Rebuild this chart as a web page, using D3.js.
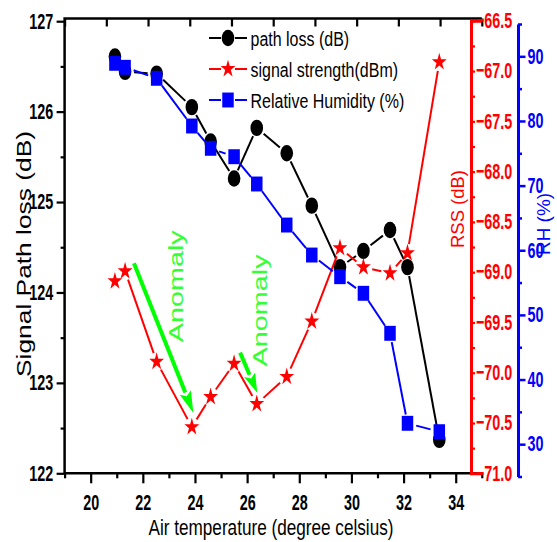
<!DOCTYPE html>
<html>
<head>
<meta charset="utf-8">
<script src="https://cdn.jsdelivr.net/npm/d3@7"></script>
<style>
  html, body { margin: 0; padding: 0; background: #fff; }
  svg { display: block; }
</style>
</head>
<body>
<svg id="chart" width="557" height="542"></svg>
<script>
// Air temperature readings (degree celsius)
const temperature = [20.93, 21.32, 22.53, 23.88, 24.6, 25.5, 26.37, 27.52, 28.48, 29.56, 30.46, 31.48, 32.15, 33.37];
// Signal path loss (dB)
const pathLoss = [126.61, 126.44, 126.42, 126.05, 125.67, 125.26, 125.82, 125.54, 124.96, 124.28, 124.46, 124.69, 124.28, 122.37];
// Received signal strength (dBm)
const signalStrength = [-69.09, -68.99, -69.89, -70.54, -70.24, -69.91, -70.31, -70.04, -69.49, -68.76, -68.95, -69.01, -68.81, -66.91];
// Relative humidity (%)
const humidity = [88.92, 88.30, 86.60, 79.22, 75.77, 74.47, 70.25, 63.90, 59.26, 55.91, 53.34, 47.15, 33.23, 31.93];

// Tick values for each axis
const xTicks = [20, 22, 24, 26, 28, 30, 32, 34];
const lossTicks = [122, 123, 124, 125, 126, 127];
const rssTicks = [-71, -70.5, -70, -69.5, -69, -68.5, -68, -67.5, -67, -66.5];
const rhTicks = [30, 40, 50, 60, 70, 80, 90];

const legendLabels = ["path loss (dB)", "signal strength(dBm)", "Relative Humidity (%)"];

// Anomaly arrows in data units: [temp start, RSS start, temp end, RSS end]
const anomalyArrows = [[21.66, -68.91, 23.94, -70.40], [25.73, -69.80, 26.39, -70.20]];
// Anomaly label anchors in data units: [temp, RSS]
const anomalyLabels = [[23.55, -69.14], [26.75, -69.38]];

const S = 1.3;          // vertical stretch of glyphs and symbols
const FONT = 'Arial, "Liberation Sans", sans-serif';
const svg = d3.select("#chart");

const x = d3.scaleLinear([19, 35], [64.6, 481.8]);
const xTop = d3.scaleLinear([0, 10], x.range());
const yLoss = d3.scaleLinear([122, 127], [473.3, 21.2]);
const yRss = d3.scaleLinear([-71, -66.5], [473.3, 20.8]);
const yRh = d3.scaleLinear([25, 95], [476.5, 24]);

const frameTop = 18.5;
const frameBottom = yLoss.range()[0];

function styleTickText(g, color, tx, ty, anchor) {
  g.selectAll(".tick text")
    .attr("x", null).attr("y", null).attr("dy", null)
    .attr("text-anchor", anchor)
    .attr("transform", `translate(${tx},${ty}) scale(0.82,${S})`)
    .attr("fill", color)
    .style("font-family", FONT).style("font-weight", "bold").style("font-size", "17.5px");
}
function styleTickLines(g, color, w) {
  g.selectAll(".tick line").attr("stroke", color).attr("stroke-width", w);
}

// ---- frame (left, top, bottom) ----
svg.append("path")
  .attr("d", `M${x.range()[0]},${frameBottom}V${frameTop}H${x.range()[1]}M${x.range()[0]},${frameBottom}H${x.range()[1]}`)
  .attr("fill", "none").attr("stroke", "#000").attr("stroke-width", 2.5);

// top axis: inward ticks, no labels
const gTop = svg.append("g").attr("transform", `translate(0,${frameTop})`)
  .call(d3.axisBottom(xTop).ticks(10).tickSize(8).tickFormat(""));
gTop.select(".domain").remove();
styleTickLines(gTop, "#000", 2.2);

// bottom axis
const gB = svg.append("g").attr("transform", `translate(0,${frameBottom})`)
  .call(d3.axisBottom(x).tickValues(xTicks).tickSize(10).tickFormat(d3.format("d")));
gB.select(".domain").remove();
styleTickLines(gB, "#000", 2.2);
styleTickText(gB, "#000", 0, 36.7, "middle");
const gBm = svg.append("g").attr("transform", `translate(0,${frameBottom})`)
  .call(d3.axisBottom(x).tickValues(d3.range(19, 36, 2)).tickSize(5).tickFormat(""));
gBm.select(".domain").remove();
styleTickLines(gBm, "#000", 2.2);

// left axis: path loss
const gL = svg.append("g").attr("transform", `translate(${x.range()[0]},0)`)
  .call(d3.axisLeft(yLoss).tickValues(lossTicks).tickSize(8).tickFormat(d3.format("d")));
gL.select(".domain").remove();
styleTickLines(gL, "#000", 2.2);
styleTickText(gL, "#000", -11.5, 6.8, "end");
const gLm = svg.append("g").attr("transform", `translate(${x.range()[0]},0)`)
  .call(d3.axisLeft(yLoss).tickValues(d3.range(122.5, 127, 1)).tickSize(4).tickFormat(""));
gLm.select(".domain").remove();
styleTickLines(gLm, "#000", 2.2);

// right axis 1: RSS (red)
const gR = svg.append("g").attr("transform", "translate(471,0)")
  .call(d3.axisRight(yRss).tickValues(rssTicks).tickSize(4).tickSizeOuter(10).tickFormat(d3.format(".1f")));
gR.select(".domain").attr("stroke", "#ff0000").attr("stroke-width", 3);
styleTickLines(gR, "#ff0000", 2.2);
styleTickText(gR, "#ff0000", 5, 6.8, "start");
const gRm = svg.append("g").attr("transform", "translate(471,0)")
  .call(d3.axisRight(yRss).tickValues(d3.range(-70.75, -66.5, 0.5)).tickSize(4).tickFormat(""));
gRm.select(".domain").remove();
styleTickLines(gRm, "#ff0000", 2.2);

// right axis 2: RH (blue)
const gH = svg.append("g").attr("transform", "translate(518,0)")
  .call(d3.axisRight(yRh).tickValues(rhTicks).tickSize(7.5).tickSizeOuter(0).tickFormat(d3.format("d")));
gH.select(".domain").attr("stroke", "#0000ff").attr("stroke-width", 3);
styleTickLines(gH, "#0000ff", 2.5);
styleTickText(gH, "#0000ff", 9.5, 6.8, "start");
const gHm = svg.append("g").attr("transform", "translate(518,0)")
  .call(d3.axisRight(yRh).tickValues(d3.range(25, 96, 10)).tickSize(4).tickFormat(""));
gHm.select(".domain").remove();
styleTickLines(gHm, "#0000ff", 2.5);

// ---- axis titles ----
function title(txt, tx, ty, rot, size, len, color) {
  const t = svg.append("text")
    .attr("transform", rot ? `translate(${tx},${ty}) rotate(-90)` : `translate(${tx},${ty}) scale(1,${S})`)
    .attr("text-anchor", "middle")
    .attr("fill", color)
    .style("font-family", FONT).style("font-size", size + "px")
    .text(txt);
  if (len) t.attr("textLength", len).attr("lengthAdjust", "spacingAndGlyphs");
  return t;
}
title("Signal Path loss (dB)", 31, 254, true, 20, 246, "#000");
title("Air temperature (degree celsius)", 271, 535, false, 17, 245, "#000");
title("RSS (dB)", 464, 209, true, 19, 78, "#ff0000");
title("RH (%)", 550, 224, true, 18, 62, "#0000ff");

// ---- series ----
const symbolCircle = d3.symbol().type(d3.symbolCircle).size(125)();
const symbolStar = d3.symbol().type(d3.symbolStar).size(68)();
const symbolSquare = d3.symbol().type(d3.symbolSquare).size(132)();

const series = [
  { label: legendLabels[0], values: pathLoss, y: yLoss, color: "#000000", shape: symbolCircle, sy: S, gap: 9 },
  { label: legendLabels[1], values: signalStrength, y: yRss, color: "#ff0000", shape: symbolStar, sy: 1.2, gap: 9 },
  { label: legendLabels[2], values: humidity, y: yRh, color: "#0000ff", shape: symbolSquare, sy: S, gap: 9 }
];

function gappedSegments(pts, gap) {
  const segs = [];
  for (let i = 0; i < pts.length - 1; i++) {
    const [x0, y0] = pts[i], [x1, y1] = pts[i + 1];
    const dx = x1 - x0, dy = y1 - y0, len = Math.hypot(dx, dy);
    if (len <= 2 * gap + 1) continue;
    const ux = dx / len, uy = dy / len;
    segs.push([[x0 + ux * gap, y0 + uy * gap], [x1 - ux * gap, y1 - uy * gap]]);
  }
  return segs;
}
const line = d3.line();

series.forEach(s => {
  const pts = temperature.map((t, i) => [x(t), s.y(s.values[i])]);
  const g = svg.append("g");
  g.selectAll("path.seg").data(gappedSegments(pts, s.gap)).join("path")
    .attr("class", "seg").attr("d", line)
    .attr("fill", "none").attr("stroke", s.color).attr("stroke-width", 2);
  g.selectAll("path.mk").data(pts).join("path")
    .attr("class", "mk").attr("d", s.shape)
    .attr("transform", d => `translate(${d[0]},${d[1]}) scale(1,${s.sy})`)
    .attr("fill", s.color);
});

// ---- anomaly annotations ----
const green = "#00ff00";
anomalyArrows.forEach(a => {
  const x0 = x(a[0]), y0 = yRss(a[1]), x1 = x(a[2]), y1 = yRss(a[3]);
  const dx = x1 - x0, dy = y1 - y0, len = Math.hypot(dx, dy);
  const ux = dx / len, uy = dy / len, head = Math.min(22, len * 0.45), hw = 6;
  const bx = x1 - ux * head, by = y1 - uy * head;
  svg.append("path")
    .attr("d", `M${x0},${y0}L${bx},${by}`)
    .attr("stroke", green).attr("stroke-width", 4).attr("fill", "none");
  svg.append("path")
    .attr("d", `M${x1},${y1}L${bx - uy * hw},${by + ux * hw}L${bx + ux * 4},${by + uy * 4}L${bx + uy * hw},${by - ux * hw}Z`)
    .attr("fill", green);
});
anomalyLabels.forEach(p => {
  svg.append("text")
    .attr("transform", `translate(${x(p[0])},${yRss(p[1])}) rotate(-90)`)
    .attr("text-anchor", "middle")
    .attr("fill", "#33ff33")
    .attr("textLength", 112).attr("lengthAdjust", "spacingAndGlyphs")
    .style("font-family", FONT).style("font-size", "21px")
    .text("Anomaly");
});

// ---- legend ----
const legend = svg.append("g");
const legendRows = [38, 69, 100];
series.forEach((s, i) => {
  const cy = legendRows[i];
  const row = legend.append("g").attr("transform", `translate(0,${cy})`);
  row.append("path").attr("d", "M209,0H221M235,0H247")
    .attr("stroke", s.color).attr("stroke-width", 2);
  row.append("path").attr("d", s.shape)
    .attr("transform", `translate(228,0) scale(1,${s.sy})`)
    .attr("fill", s.color);
  row.append("text")
    .attr("transform", `translate(250.5,8) scale(1,${S})`)
    .attr("fill", "#000")
    .style("font-family", FONT).style("font-size", "16px")
    .text(s.label);
});
</script>
</body>
</html>
